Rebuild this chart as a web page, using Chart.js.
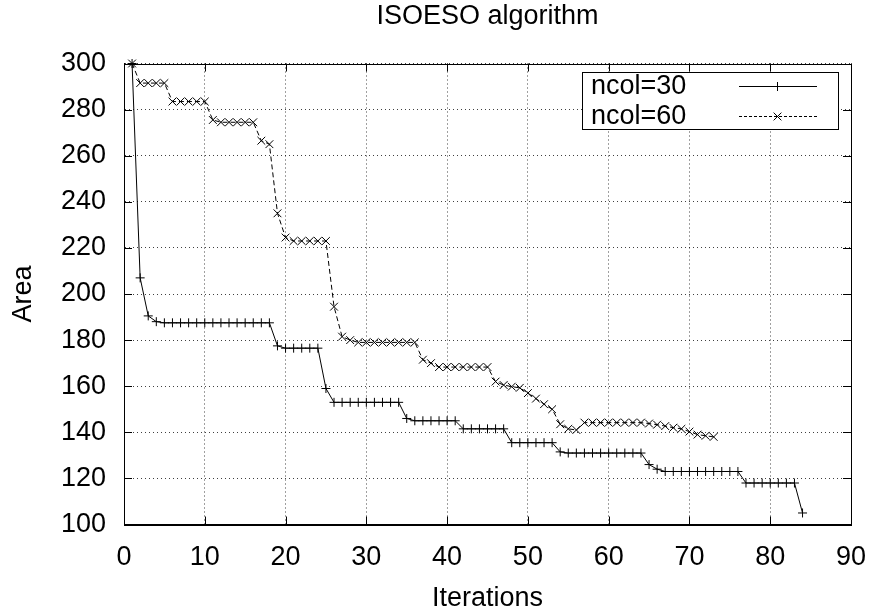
<!DOCTYPE html>
<html>
<head>
<meta charset="utf-8">
<script src="https://cdn.jsdelivr.net/npm/chart.js@4.4.1/dist/chart.umd.min.js"></script>
<style>
  html, body { margin: 0; padding: 0; background: #ffffff; }
  #wrap { width: 870px; height: 612px; }
</style>
</head>
<body>
<div id="wrap"><canvas id="c" width="870" height="612"></canvas></div>
<script>
const chartTitle = 'ISOESO algorithm';
const xAxisTitle = 'Iterations';
const yAxisTitle = 'Area';
const xTicks = [0, 10, 20, 30, 40, 50, 60, 70, 80, 90];
const yTicks = [100, 120, 140, 160, 180, 200, 220, 240, 260, 280, 300];
const seriesLabels = ['ncol=30', 'ncol=60'];

// Area per iteration (iterations start at 1)
const ncol30 = [
  300, 207, 190.5, 188,
  187.5, 187.5, 187.5, 187.5, 187.5, 187.5, 187.5, 187.5, 187.5, 187.5, 187.5, 187.5, 187.5, 187.5,
  177.5, 176.5, 176.5, 176.5, 176.5, 176.5,
  159, 153, 153, 153, 153, 153, 153, 153, 153, 153,
  146, 145, 145, 145, 145, 145, 145,
  141.5, 141.5, 141.5, 141.5, 141.5, 141.5,
  135.5, 135.5, 135.5, 135.5, 135.5, 135.5,
  131.5, 131, 131, 131, 131, 131, 131, 131, 131, 131, 131,
  126, 124,
  123, 123, 123, 123, 123, 123, 123, 123, 123, 123,
  118, 118, 118, 118, 118, 118, 118,
  105
];
const ncol60 = [
  300, 291.5, 291.5, 291.5, 291.5,
  283.5, 283.5, 283.5, 283.5, 283.5,
  275.5, 274.5, 274.5, 274.5, 274.5, 274.5,
  266.5, 265, 235, 224.5,
  223, 223, 223, 223, 223,
  194.5, 181.5, 180,
  179, 179, 179, 179, 179, 179, 179, 179,
  171.5, 170,
  168.3, 168.3, 168.3, 168.3, 168.3, 168.3, 168.3,
  162, 160.5, 159.8, 159.3, 157, 154.6, 152.2, 150,
  143.5, 141.5, 141,
  144.2, 144.2, 144.2, 144.2, 144.2, 144.2, 144.2, 144.2,
  143.8, 143.3, 142.7, 142, 141.5, 140.3, 139, 138.5, 138
];

const FONT = "'Liberation Sans', Arial, Helvetica, sans-serif";
const FS = 27;

function toPoints(arr) { return arr.map((v, i) => ({ x: i + 1, y: v })); }

const frameTicks = {
  id: 'frameTicks',
  afterDatasetsDraw(chart) {
    const { ctx, chartArea: a, scales } = chart;
    ctx.save();
    ctx.strokeStyle = '#000';
    ctx.lineWidth = 1;
    ctx.setLineDash([]);
    const L = 8;
    ctx.beginPath();
    scales.x.ticks.forEach(t => {
      const px = Math.round(scales.x.getPixelForValue(t.value)) + 0.5;
      ctx.moveTo(px, a.bottom); ctx.lineTo(px, a.bottom - L);
      ctx.moveTo(px, a.top); ctx.lineTo(px, a.top + L);
    });
    scales.y.ticks.forEach(t => {
      const py = Math.round(scales.y.getPixelForValue(t.value)) + 0.5;
      ctx.moveTo(a.left, py); ctx.lineTo(a.left + L, py);
      ctx.moveTo(a.right, py); ctx.lineTo(a.right - L, py);
    });
    ctx.stroke();
    ctx.strokeRect(Math.round(a.left) + 0.5, Math.round(a.top) + 0.5,
                   Math.round(a.right - a.left), Math.round(a.bottom - a.top));
    ctx.restore();
  }
};

const boxLegend = {
  id: 'boxLegend',
  afterDraw(chart) {
    const { ctx } = chart;
    const bx = 582.5, by = 72.5, bw = 256, bh = 57;
    ctx.save();
    ctx.fillStyle = '#fff';
    ctx.fillRect(bx, by, bw, bh);
    ctx.strokeStyle = '#000';
    ctx.lineWidth = 1;
    ctx.setLineDash([]);
    ctx.strokeRect(bx, by, bw, bh);
    const rowsY = [86, 115.5];
    chart.data.datasets.forEach((ds, i) => {
      const y = rowsY[i];
      ctx.fillStyle = '#000';
      ctx.font = FS + 'px ' + FONT;
      ctx.textAlign = 'left';
      ctx.textBaseline = 'middle';
      ctx.fillText(ds.label, 591, y + 1);
      ctx.strokeStyle = '#000';
      ctx.lineWidth = 1;
      ctx.setLineDash(i === 0 ? [] : [3, 2]);
      ctx.beginPath();
      ctx.moveTo(739, Math.round(y) + 0.5);
      ctx.lineTo(817, Math.round(y) + 0.5);
      ctx.stroke();
      ctx.setLineDash([]);
      Chart.helpers.drawPoint(ctx, {
        pointStyle: ds.pointStyle, radius: ds.pointRadius, borderWidth: 1, rotation: 0
      }, 777.5, Math.round(y) + 0.5);
    });
    ctx.restore();
  }
};

new Chart(document.getElementById('c'), {
  type: 'line',
  data: {
    datasets: [
      {
        label: seriesLabels[0],
        data: toPoints(ncol30),
        borderColor: '#000',
        backgroundColor: '#000',
        borderWidth: 1,
        pointStyle: 'cross',
        pointRadius: 4.5,
        pointBorderWidth: 1,
        pointBorderColor: '#000',
        fill: false,
        tension: 0,
        clip: false
      },
      {
        label: seriesLabels[1],
        data: toPoints(ncol60),
        borderColor: '#000',
        backgroundColor: '#000',
        borderWidth: 1,
        borderDash: [5, 3],
        pointStyle: 'crossRot',
        pointRadius: 5.5,
        pointBorderWidth: 1,
        pointBorderColor: '#000',
        fill: false,
        tension: 0,
        clip: false
      }
    ]
  },
  options: {
    responsive: false,
    animation: false,
    devicePixelRatio: 1,
    layout: { padding: { left: 0, right: 19, top: 0, bottom: 0 } },
    plugins: {
      legend: { display: false },
      tooltip: { enabled: false },
      title: { display: false }
    },
    scales: {
      x: {
        type: 'linear',
        min: 0, max: 90,
        afterBuildTicks(scale) { scale.ticks = xTicks.map(v => ({ value: v })); },
        afterFit(scale) { scale.height = 87.5; scale.paddingLeft = 0; scale.paddingRight = 0; },
        ticks: {
          color: '#000',
          font: { family: FONT, size: FS },
          padding: 17,
          maxRotation: 0,
          autoSkip: false
        },
        grid: { color: 'rgba(0,0,0,0.75)', lineWidth: 1, drawTicks: false },
        border: { display: true, color: '#000', dash: [1, 3] },
        title: {
          display: true,
          text: xAxisTitle,
          color: '#000',
          font: { family: FONT, size: FS },
          padding: { top: 0, bottom: -3 }
        }
      },
      xTop: {
        type: 'linear',
        position: 'top',
        min: 0, max: 90,
        afterFit(scale) { scale.height = 63.5; scale.paddingLeft = 0; scale.paddingRight = 0; },
        ticks: { display: false },
        grid: { display: false, drawTicks: false },
        border: { display: false },
        title: {
          display: true,
          text: chartTitle,
          color: '#000',
          font: { family: FONT, size: FS },
          padding: { top: 0, bottom: 0 }
        }
      },
      y: {
        type: 'linear',
        min: 100, max: 300,
        afterBuildTicks(scale) { scale.ticks = yTicks.map(v => ({ value: v })); },
        afterFit(scale) { scale.width = 124; scale.paddingTop = 0; scale.paddingBottom = 0; },
        ticks: {
          color: '#000',
          font: { family: FONT, size: FS },
          padding: 18,
          autoSkip: false
        },
        grid: { color: 'rgba(0,0,0,0.75)', lineWidth: 1, drawTicks: false },
        border: { display: true, color: '#000', dash: [1, 3] },
        title: {
          display: true,
          text: yAxisTitle,
          color: '#000',
          font: { family: FONT, size: FS },
          padding: { top: 7, bottom: 0 }
        }
      }
    }
  },
  plugins: [frameTicks, boxLegend]
});
</script>
</body>
</html>
